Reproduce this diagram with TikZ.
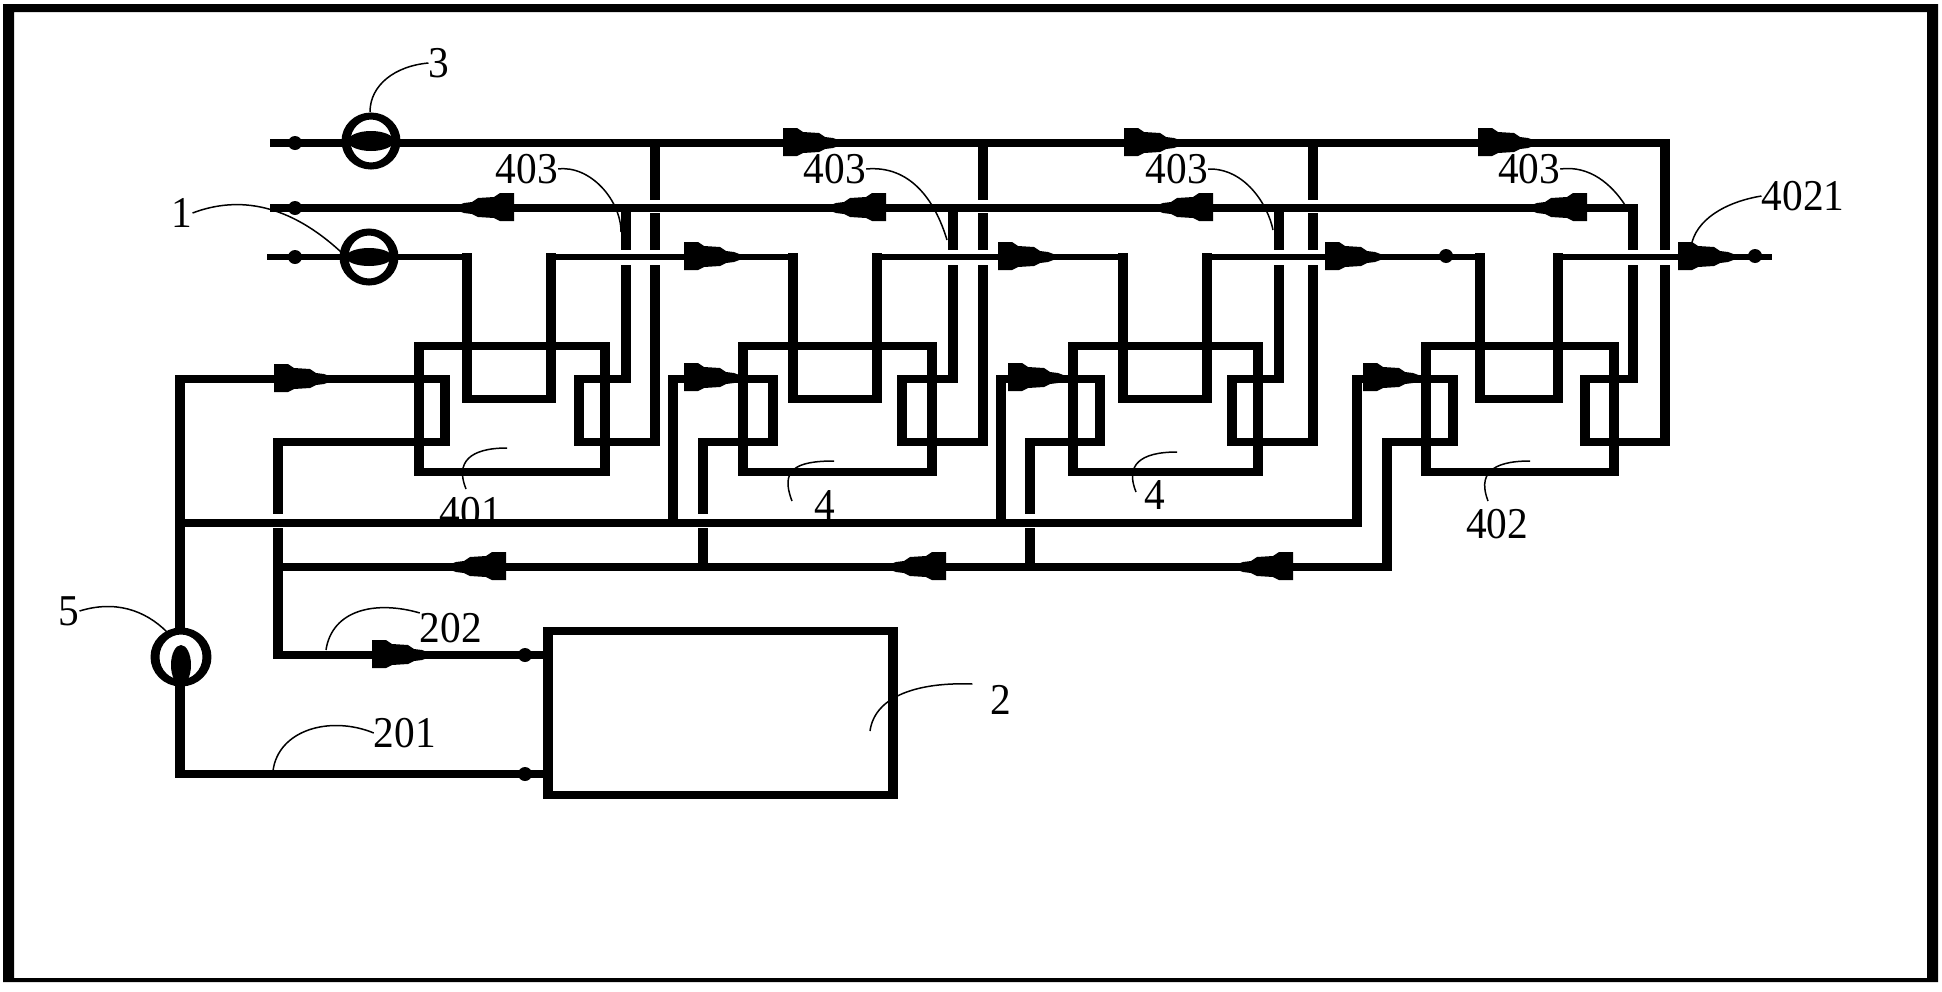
\documentclass[tikz,border=0pt]{standalone}
\usepackage{fontspec}
\newfontfamily\tagfont[FakeStretch=0.94]{Liberation Serif}
\tikzset{
  pipe/.style={line width=7.7pt},
  thinpipe/.style={line width=6.5pt},
  pumpring/.style={line width=7pt, fill=white},
  leader/.style={line width=1.5pt},
  tag/.style={inner sep=0pt, font=\tagfont\fontsize{44}{44}\selectfont},
  valve/.pic={\fill (0,-15) -- (14,-15) -- (20,-11) -- (36,-10) -- (42,-6) -- (50,-5) -- (58,-2) -- (58,2)
    -- (50,5) -- (42,6) -- (36,9) -- (20,10) -- (14,13) -- (0,13) -- cycle;}
}

\begin{document}
\begin{tikzpicture}[x=1pt, y=-1pt]
  \useasboundingbox (0,0) rectangle (1942,991);
  \fill[even odd rule] (3,4) rectangle (1938,982) (14,12) rectangle (1927,978);

  % labels
  \node (lab3) [tag] at (439,63) {3};
  \node (lab1) [tag] at (182,213) {1};
  \node (lab403a) [tag] at (527,169) {403};
  \node (lab403b) [tag] at (835,169) {403};
  \node (lab403c) [tag] at (1177,169) {403};
  \node (lab403d) [tag] at (1529,169) {403};
  \node (lab4021) [tag] at (1803,196) {4021};
  \node (lab401) [tag] at (471,512) {401};
  \node (lab4a) [tag] at (825,505) {4};
  \node (lab4b) [tag] at (1155,495) {4};
  \node (lab402) [tag] at (1497,524) {402};
  \node (lab5) [tag] at (69,611) {5};
  \node (lab2) [tag] at (1001,700) {2};
  \node (lab202) [tag] at (451,628) {202};
  \node (lab201) [tag] at (405,733) {201};

  % everything in here is wider across than it is high
  \begin{scope}[transform canvas={xscale=1.28}, x=0.78125pt]
    \node (tank) [draw, line width=7.7pt, minimum width=269.5pt, minimum height=164pt, inner sep=0pt, outer sep=0pt] at (720.5,713) {};

    \foreach \bxl/\lpl/\upl/\upr/\lpr/\bxr/\vta/\vtb in
      {419/445/467/551/579/605/626/655, 743/773/793/877/902/932/953/983,
       1073/1100/1123/1207/1232/1258/1279/1313, 1426/1453/1480/1558/1585/1614/1633/1665} {
      \draw[pipe] (\bxl,346) rectangle (\bxr,472);
      \draw[pipe] (\upl,253) -- (\upl,399) -- (\upr,399) -- (\upr,253);
      \draw[pipe] (\vta,208) -- (\vta,250);
      \draw[pipe] (\vta,265) -- (\vta,379) -- (\lpr,379) -- (\lpr,442) -- (\vtb,442) -- (\vtb,265);
      \draw[pipe] (\vtb,213) -- (\vtb,250);
      \draw[pipe] (\vtb,143) -- (\vtb,200);
    }

    % top, middle and lower lines
    \draw[pipe] (270,143) -- (1665,143) -- (1665,215);
    \draw[pipe] (270,208) -- (1633,208) -- (1633,250);
    \draw[thinpipe] (267,257) -- (467,257);
    \draw[thinpipe] (551,257) -- (793,257);
    \draw[thinpipe] (877,257) -- (1123,257);
    \draw[thinpipe] (1207,257) -- (1480,257);
    \draw[thinpipe] (1558,257) -- (1772,257);

    % feed side
    \draw[pipe] (tank.west |- 0,774) -- (180,774) -- (180,379) -- (445,379) -- (445,442) -- (278,442) -- (278,514);
    \draw[pipe] (278,528) -- (278,655) -- (tank.west |- 0,655);
    \draw[pipe] (180,523) -- (1357,523) -- (1357,379) -- (1453,379) -- (1453,442) -- (1387,442) -- (1387,567) -- (278,567);
    \foreach \ris/\rgt/\ret in {673/773/703, 1001/1100/1030} {
      \draw[pipe] (\ris,523) -- (\ris,379) -- (\rgt,379) -- (\rgt,442) -- (\ret,442) -- (\ret,514);
      \draw[pipe] (\ret,528) -- (\ret,567);
    }

    % pumps
    \coordinate (pump3) at (371,141);
    \coordinate (pump1) at (369,257);
    \coordinate (pump5) at (181,657);
    \draw[pumpring] (pump3) circle (25);
    \draw[pumpring] (pump1) circle (25);
    \draw[pumpring] (pump5) circle (26);
    \fill (pump3) ellipse (23 and 10);
    \fill (pump1) ellipse (23 and 9);
    \fill (181,665) ellipse (10 and 20);

    % valves
    \foreach \vx/\vy in {783/143, 1124/143, 1478/143, 684/257, 998/257, 1325/257, 1678/257,
                         274/379, 684/378, 1008/378, 1363/378, 372/655}
      \pic at (\vx,\vy) {valve};
    \foreach \vx/\vy in {514/208, 886/208, 1213/208, 1587/208, 506/567, 946/567, 1293/567}
      \pic[xscale=-1] at (\vx,\vy) {valve};
    \foreach \dx/\dy in {295/143, 295/208, 295/257, 1446/256, 1755/256, 525/655, 525/774}
      \fill (\dx,\dy) circle (7);
  \end{scope}

  % leaders
  \draw[leader] (lab3.west) .. controls (395,66) and (370,85) .. (370,112) coordinate (tip3);
  \draw[leader] (lab1.east) .. controls (240,195) and (290,205) .. (341,252) coordinate (tip1);
  \draw[leader] (lab403a.east) .. controls (590,165) and (621,200) .. (621,232) coordinate (tip403a);
  \draw[leader] (lab403b.east) .. controls (910,165) and (935,200) .. (947,240) coordinate (tip403b);
  \draw[leader] (lab403c.east) .. controls (1245,168) and (1268,205) .. (1273,230) coordinate (tip403c);
  \draw[leader] (lab403d.east) .. controls (1590,165) and (1612,185) .. (1625,205) coordinate (tip403d);
  \draw[leader] (lab4021.west) .. controls (1725,202) and (1695,220) .. (1691,247) coordinate (tip4021);
  \draw[leader] (466,489) coordinate (foot401) .. controls (455,462) and (470,448) .. (507,448);
  \draw[leader] (792,501) coordinate (foot4a) .. controls (780,470) and (795,461) .. (834,461);
  \draw[leader] (1136,492) coordinate (foot4b) .. controls (1125,465) and (1140,452) .. (1177,452);
  \draw[leader] (1488,501) coordinate (foot402) .. controls (1478,475) and (1490,461) .. (1530,461);
  \draw[leader] (lab5.east) .. controls (115,600) and (145,610) .. (167,632) coordinate (tip5);
  \draw[leader] (lab2.west) ++(-18,-16) coordinate (foot2) .. controls (920,682) and (875,695) .. (870,731);
  \draw[leader] (lab202.north west) .. controls (375,600) and (332,610) .. (326,650) coordinate (tip202);
  \draw[leader] (lab201.west) .. controls (330,715) and (278,730) .. (273,771) coordinate (tip201);
\end{tikzpicture}
\end{document}
